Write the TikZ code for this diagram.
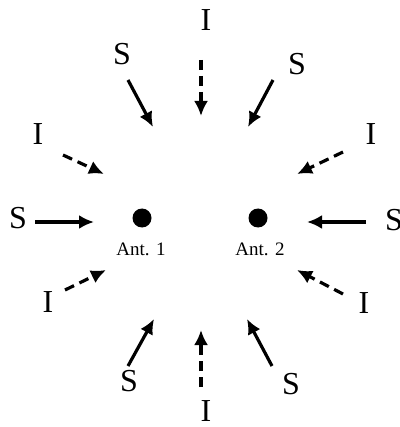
\documentclass[tikz,border=0pt]{standalone}
\usepackage{fontspec}
\setmainfont{Liberation Serif}
\usetikzlibrary{arrows.meta}
\begin{document}
\begin{tikzpicture}[x=1pt,y=-1pt,
  lbl/.style={font=\fontsize{32}{32}\selectfont, inner sep=0pt},
  antlbl/.style={font=\fontsize{19}{19}\selectfont, inner sep=0pt},
  sig/.style={line width=3.2pt, -{Latex[length=15pt,width=14pt]}},
  intf/.style={line width=3.2pt, dash pattern=on 10pt off 6pt, -{Latex[length=15pt,width=14pt]}},
  dot/.style={circle, fill=black, minimum size=19pt, inner sep=0pt}]
\useasboundingbox (0,0) rectangle (399,427);
% antennas
\node[dot] (a1) at (142,218) {};
\node[dot] (a2) at (258,218) {};
\node[antlbl] (a1l) at (141,249) {Ant. 1};
\node[antlbl] (a2l) at (260,249) {Ant. 2};
% labels
\node[lbl] (tI) at (206,20) {I};
\node[lbl] (tlS) at (122,54) {S};
\node[lbl] (trS) at (297,64) {S};
\node[lbl] (lI) at (38,134) {I};
\node[lbl] (rI) at (371,134) {I};
\node[lbl] (lS) at (18,218) {S};
\node[lbl] (rS) at (394,220) {S};
\node[lbl] (llI) at (48,302) {I};
\node[lbl] (lrI) at (364,303) {I};
\node[lbl] (blS) at (129,381) {S};
\node[lbl] (brS) at (291,384) {S};
\node[lbl] (bI) at (206,411) {I};
% arrow end points
\coordinate (tIa) at (201,60);   \coordinate (tIb) at (201,116);
\coordinate (tlSa) at (128,80);  \coordinate (tlSb) at (153,127);
\coordinate (trSa) at (273,80);  \coordinate (trSb) at (248,127);
\coordinate (lIa) at (63,155);   \coordinate (lIb) at (104,174);
\coordinate (rIa) at (343,152);  \coordinate (rIb) at (297,174);
\coordinate (lSa) at (35,222);   \coordinate (lSb) at (94,222);
\coordinate (rSa) at (366,222);  \coordinate (rSb) at (307,222);
\coordinate (llIa) at (65,290);  \coordinate (llIb) at (106,270);
\coordinate (lrIa) at (343,294); \coordinate (lrIb) at (297,270);
\coordinate (blSa) at (128,366); \coordinate (blSb) at (154,319);
\coordinate (brSa) at (272,366); \coordinate (brSb) at (247,319);
\coordinate (bIa) at (201,387);  \coordinate (bIb) at (201,330);
% arrows
\draw[intf] (tIa) -- (tIb);
\draw[sig] (tlSa) -- (tlSb);
\draw[sig] (trSa) -- (trSb);
\draw[intf] (lIa) -- (lIb);
\draw[intf] (rIa) -- (rIb);
\draw[sig] (lSa) -- (lSb);
\draw[sig] (rSa) -- (rSb);
\draw[intf] (llIa) -- (llIb);
\draw[intf] (lrIa) -- (lrIb);
\draw[sig] (blSa) -- (blSb);
\draw[sig] (brSa) -- (brSb);
\draw[intf] (bIa) -- (bIb);
\end{tikzpicture}
\end{document}
